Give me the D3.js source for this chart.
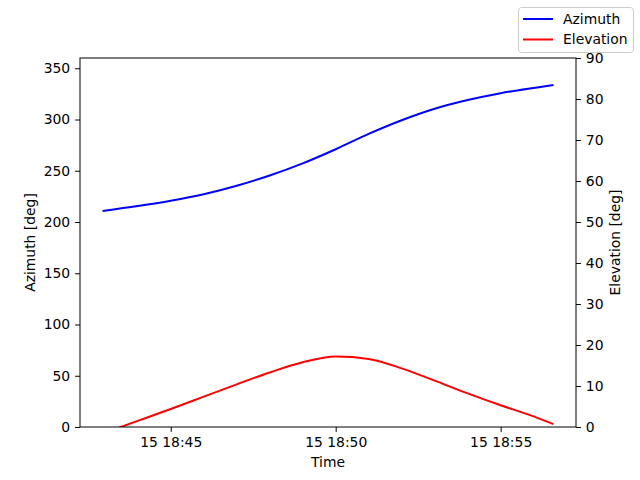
<!DOCTYPE html>
<html><head><meta charset="utf-8">
<script src="https://cdn.jsdelivr.net/npm/d3@7"></script>
<style>body{margin:0;background:#fff}svg{display:block;font-family:"DejaVu Sans",sans-serif}</style>
</head><body><svg id="c" width="640" height="480"></svg>
<script>
const times = ["18:42:56","18:44:00","18:45:00","18:46:00","18:47:00","18:48:00","18:49:00","18:50:00","18:51:00","18:52:00","18:53:00","18:54:00","18:55:00","18:56:00","18:56:36"];
const azimuth = [210.7,215.5,220.7,227.1,235.4,245.4,257.2,271,286,299.3,310.5,319,325.7,330.8,333.6];
const elevation = [-1.6,1.5,4.4,7.4,10.4,13.3,15.8,17.2,16.6,14.3,11.3,8.2,5.3,2.6,0.7];
const xTickTimes = ["18:45:00","18:50:00","18:55:00"];
const xTickLabels = ["15 18:45","15 18:50","15 18:55"];
const leftTicks = [0,50,100,150,200,250,300,350];
const rightTicks = [0,10,20,30,40,50,60,70,80,90];

const parse = d3.timeParse("%Y-%m-%d %H:%M:%S");
const T = s => parse("2024-01-15 " + s);
const data = times.map((t,i)=>({t:T(t), az:azimuth[i], el:elevation[i]}));

const svg = d3.select("#c");
const L=80, R=576, Tp=58, B=427;
const t0 = data[0].t, t1 = data[data.length-1].t;
const span = t1 - t0;
const x = d3.scaleTime().domain([new Date(+t0 - span*0.05), new Date(+t1 + span*0.05)]).range([L,R]);
const yL = d3.scaleLinear().domain([0,360]).range([B,Tp]);
const yR = d3.scaleLinear().domain([0,90]).range([B,Tp]);
const fs = "13.9px";

svg.append("defs").append("clipPath").attr("id","clip").append("rect")
  .attr("x",L).attr("y",Tp).attr("width",R-L).attr("height",B-Tp);

const g = svg.append("g").attr("clip-path","url(#clip)");
g.append("path").datum(data)
  .attr("d", d3.line().x(d=>x(d.t)).y(d=>yL(d.az)).curve(d3.curveMonotoneX))
  .attr("fill","none").attr("stroke","#0000ff").attr("stroke-width",2);
g.append("path").datum(data)
  .attr("d", d3.line().x(d=>x(d.t)).y(d=>yR(d.el)).curve(d3.curveMonotoneX))
  .attr("fill","none").attr("stroke","#ff0000").attr("stroke-width",2);

function styleAxis(sel){
  sel.selectAll("text").attr("font-size",fs).attr("fill","#000").attr("font-family","DejaVu Sans");
  sel.selectAll("line").attr("stroke","#000").attr("stroke-width",1);
  sel.select(".domain").remove();
}
const xa = svg.append("g").attr("transform",`translate(0,${B})`)
  .call(d3.axisBottom(x).tickValues(xTickTimes.map(T)).tickFormat((d,i)=>xTickLabels[i]).tickSizeOuter(0).tickSize(4.9).tickPadding(4.9));
styleAxis(xa);
xa.selectAll("text").attr("dy","0.71em");
const yla = svg.append("g").attr("transform",`translate(${L},0)`)
  .call(d3.axisLeft(yL).tickValues(leftTicks).tickSize(4.9).tickPadding(4.9));
styleAxis(yla);
const yra = svg.append("g").attr("transform",`translate(${R},0)`)
  .call(d3.axisRight(yR).tickValues(rightTicks).tickSize(4.9).tickPadding(4.9));
styleAxis(yra);

svg.append("rect").attr("x",L).attr("y",Tp).attr("width",R-L).attr("height",B-Tp)
  .attr("fill","none").attr("stroke","#000").attr("stroke-width",1);

svg.append("text").attr("x",(L+R)/2).attr("y",467).attr("text-anchor","middle").attr("font-size",fs).text("Time");
svg.append("text").attr("transform",`translate(35,${(Tp+B)/2}) rotate(-90)`).attr("text-anchor","middle").attr("font-size",fs).text("Azimuth [deg]");
svg.append("text").attr("transform",`translate(620,${(Tp+B)/2}) rotate(-90)`).attr("text-anchor","middle").attr("font-size",fs).text("Elevation [deg]");

// legend
const lg = svg.append("g");
lg.append("rect").attr("x",518.5).attr("y",7.5).attr("width",115).attr("height",45).attr("rx",3)
  .attr("fill","#fff").attr("fill-opacity",0.8).attr("stroke","#cccccc").attr("stroke-width",1);
const items = [{n:"Azimuth",c:"#0000ff"},{n:"Elevation",c:"#ff0000"}];
items.forEach((it,i)=>{
  const yy = 19 + i*20.5;
  lg.append("line").attr("x1",523).attr("x2",553).attr("y1",yy).attr("y2",yy).attr("stroke",it.c).attr("stroke-width",2);
  lg.append("text").attr("x",563).attr("y",yy).attr("dy","0.35em").attr("font-size",fs).text(it.n);
});
</script></body></html>
